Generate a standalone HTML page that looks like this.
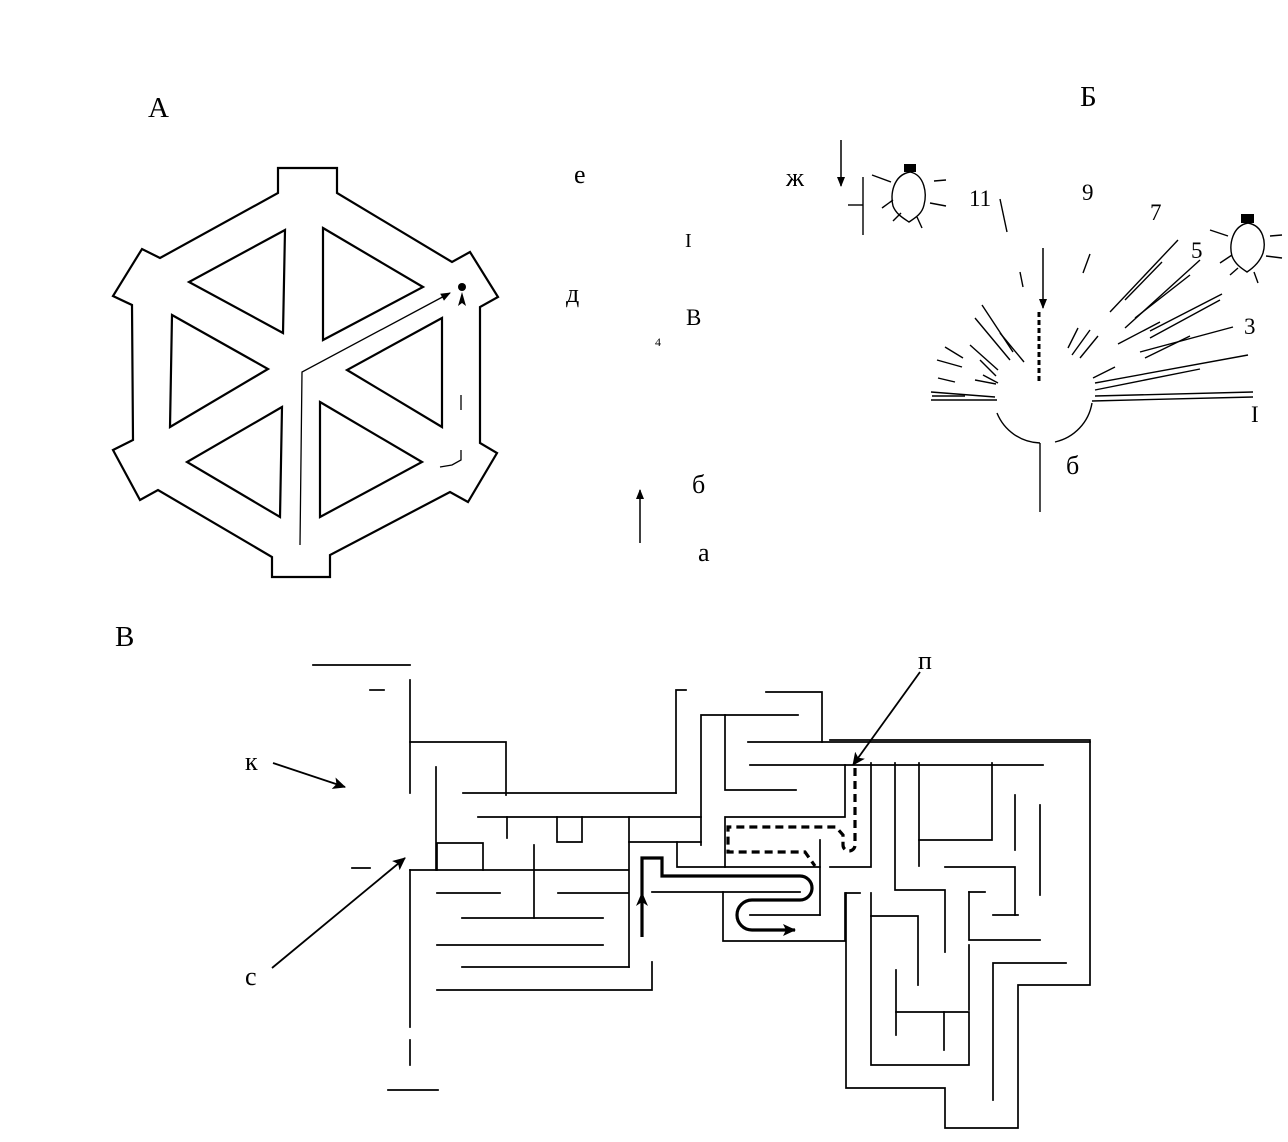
<!DOCTYPE html>
<html><head><meta charset="utf-8"><style>
html,body{margin:0;padding:0;background:#fff;}
svg{display:block}
text{font-family:"Liberation Serif","DejaVu Serif",serif;fill:#000}
</style></head><body>
<svg width="1288" height="1142" viewBox="0 0 1288 1142" xmlns="http://www.w3.org/2000/svg">
<defs>
<marker id="ah" markerWidth="10" markerHeight="10" refX="9" refY="5" orient="auto" markerUnits="userSpaceOnUse"><path d="M0,1 L10,5 L0,9 Z" fill="#000"/></marker>
<marker id="ah2" markerWidth="14" markerHeight="12" refX="12" refY="6" orient="auto" markerUnits="userSpaceOnUse"><path d="M0,0 L13,6 L0,12 L3,6 Z" fill="#000"/></marker>
</defs>

<g font-size="29">
<text x="148" y="117">А</text>
<text x="1080" y="106">Б</text>
<text x="115" y="646">В</text>
</g>
<g font-size="26">
<text x="574" y="183">е</text>
<text x="685" y="247" font-size="20">I</text>
<text x="566" y="302">д</text>
<text x="686" y="325" font-size="23">В</text>
<text x="692" y="493">б</text>
<text x="698" y="561">а</text>
<text x="786" y="186">ж</text>
<text x="245" y="770">к</text>
<text x="245" y="985">с</text>
<text x="918" y="669">п</text>
<text x="969" y="206" font-size="23">11</text>
<text x="1082" y="200" font-size="23">9</text>
<text x="1150" y="220" font-size="23">7</text>
<text x="1191" y="258" font-size="23">5</text>
<text x="1244" y="334" font-size="23">3</text>
<text x="1251" y="422" font-size="23">I</text>
<text x="1066" y="474">б</text>
</g>
<text x="655" y="346" font-size="12">4</text>

<g fill="none" stroke="#000" stroke-width="2.2" stroke-linejoin="miter">
<polygon points="278,168 337,168 337,193 452,262 470,252 498,297 480,307 480,443 497,453 468,502 450,492 330,555 330,577 272,577 272,557 158,490 140,500 113,450 133,440 132,305 113,296 142,249 160,258 278,193"/>
<polygon points="285,230 189,282 283,333"/>
<polygon points="323,228 423,287 323,340"/>
<polygon points="172,315 268,369 170,427"/>
<polygon points="442,318 347,370 442,427"/>
<polygon points="282,407 187,462 280,517"/>
<polygon points="320,402 422,462 320,517"/>
</g>
<g fill="none" stroke="#000" stroke-width="1.3">
<polyline points="300,545 302,372 450,293" marker-end="url(#ah)"/>
<line x1="461" y1="395" x2="461" y2="410"/>
<polyline points="461,450 461,460 452,465 440,467"/>
</g>
<circle cx="462" cy="287" r="4" fill="#000"/>
<path d="M462,292 L458,306 L462,303 L466,306 Z" fill="#000"/>

<line x1="640" y1="543" x2="640" y2="490" stroke="#000" stroke-width="1.5" marker-end="url(#ah)"/>
<line x1="841" y1="140" x2="841" y2="186" stroke="#000" stroke-width="1.5" marker-end="url(#ah)"/>

<g fill="none" stroke="#000" stroke-width="1.4">
<line x1="863" y1="177" x2="863" y2="235"/>
<line x1="848" y1="205" x2="863" y2="205"/>
<path d="M910,172 C893,175 890,195 893,206 C896,214 903,218 909,222 C915,218 922,214 924,205 C927,194 925,175 910,172 Z"/>
<line x1="872" y1="175" x2="891" y2="182"/><line x1="882" y1="208" x2="893" y2="200"/>
<line x1="893" y1="221" x2="901" y2="213"/><line x1="917" y1="217" x2="922" y2="228"/>
<line x1="934" y1="181" x2="946" y2="180"/><line x1="930" y1="203" x2="946" y2="206"/>
<path d="M1248,223 C1232,226 1229,245 1232,256 C1235,264 1241,268 1247,272 C1253,268 1260,262 1263,253 C1266,243 1264,226 1248,223 Z"/>
<line x1="1210" y1="230" x2="1228" y2="236"/><line x1="1220" y1="263" x2="1232" y2="255"/>
<line x1="1230" y1="275" x2="1238" y2="268"/><line x1="1254" y1="272" x2="1258" y2="283"/>
<line x1="1270" y1="236" x2="1282" y2="235"/><line x1="1266" y1="256" x2="1282" y2="258"/>
<path d="M997,413 A48,48 0 0 0 1040,443"/>
<path d="M1055,442 A48,48 0 0 0 1092,403"/>
<line x1="1040" y1="443" x2="1040" y2="512"/>
<line x1="931" y1="400" x2="997" y2="400"/>
<line x1="1092" y1="401" x2="1253" y2="397"/>
<line x1="1000" y1="199" x2="1007" y2="232"/>
<line x1="1020" y1="272" x2="1023" y2="287"/>
<line x1="1090" y1="254" x2="1083" y2="273"/>
<line x1="1178" y1="240" x2="1110" y2="312"/>
<line x1="1162" y1="262" x2="1125" y2="300"/>
<line x1="1200" y1="260" x2="1125" y2="328"/>
<line x1="1190" y1="275" x2="1135" y2="318"/>
<line x1="1222" y1="294" x2="1150" y2="331"/>
<line x1="1220" y1="300" x2="1150" y2="338"/>
<line x1="1160" y1="322" x2="1118" y2="344"/>
<line x1="1233" y1="327" x2="1140" y2="352"/>
<line x1="1190" y1="336" x2="1145" y2="358"/>
<line x1="1248" y1="355" x2="1095" y2="383"/>
<line x1="1200" y1="369" x2="1095" y2="390"/>
<line x1="1253" y1="392" x2="1095" y2="396"/>
<line x1="1115" y1="367" x2="1093" y2="378"/>
<line x1="1098" y1="336" x2="1080" y2="358"/>
<line x1="1090" y1="330" x2="1072" y2="355"/>
<line x1="1078" y1="328" x2="1068" y2="348"/>
<line x1="982" y1="305" x2="1013" y2="352"/>
<line x1="975" y1="318" x2="1010" y2="360"/>
<line x1="970" y1="345" x2="998" y2="370"/>
<line x1="980" y1="360" x2="996" y2="376"/>
<line x1="983" y1="375" x2="998" y2="383"/>
<line x1="945" y1="347" x2="963" y2="358"/>
<line x1="937" y1="360" x2="962" y2="367"/>
<line x1="938" y1="378" x2="955" y2="382"/>
<line x1="931" y1="392" x2="995" y2="397"/>
<line x1="932" y1="396" x2="965" y2="396"/>
<line x1="975" y1="380" x2="996" y2="384"/>
<line x1="1000" y1="333" x2="1024" y2="362"/>
</g>
<rect x="904" y="164" width="12" height="8" fill="#000"/>
<rect x="1241" y="214" width="13" height="9" fill="#000"/>
<line x1="1043" y1="248" x2="1043" y2="308" stroke="#000" stroke-width="1.5" marker-end="url(#ah)"/>
<line x1="1039" y1="312" x2="1039" y2="382" stroke="#000" stroke-width="3" stroke-dasharray="5,3"/>

<g fill="none" stroke="#000" stroke-width="1.7" stroke-linecap="square">
<line x1="313" y1="665" x2="410" y2="665"/>
<line x1="370" y1="690" x2="384" y2="690"/>
<line x1="388" y1="1090" x2="438" y2="1090"/>
<line x1="410" y1="680" x2="410" y2="793"/>
<line x1="410" y1="870" x2="410" y2="1027"/>
<line x1="410" y1="1040" x2="410" y2="1065"/>
<line x1="352" y1="868" x2="370" y2="868"/>
<polyline points="410,742 506,742 506,795"/>
<line x1="463" y1="793" x2="676" y2="793"/>
<polyline points="676,793 676,690 686,690"/>
<line x1="436" y1="767" x2="436" y2="870"/>
<line x1="478" y1="817" x2="701" y2="817"/>
<line x1="507" y1="817" x2="507" y2="838"/>
<polyline points="557,817 557,842 582,842 582,817"/>
<line x1="629" y1="817" x2="629" y2="967"/>
<line x1="629" y1="842" x2="701" y2="842"/>
<polyline points="701,845 701,715 798,715"/>
<polyline points="725,715 725,790 796,790"/>
<polyline points="766,692 822,692 822,742"/>
<line x1="748" y1="742" x2="1090" y2="742"/>
<line x1="750" y1="765" x2="1043" y2="765"/>
<polyline points="725,867 725,817 845,817 845,765"/>
<polyline points="437,870 437,843 483,843 483,870"/>
<line x1="410" y1="870" x2="628" y2="870"/>
<line x1="534" y1="845" x2="534" y2="918"/>
<line x1="462" y1="918" x2="603" y2="918"/>
<line x1="437" y1="893" x2="500" y2="893"/>
<line x1="558" y1="893" x2="628" y2="893"/>
<line x1="437" y1="945" x2="603" y2="945"/>
<line x1="462" y1="967" x2="629" y2="967"/>
<polyline points="437,990 652,990 652,962"/>
<polyline points="677,842 677,867 725,867 820,867"/>
<line x1="820" y1="840" x2="820" y2="915"/>
<line x1="750" y1="915" x2="820" y2="915"/>
<line x1="652" y1="892" x2="800" y2="892"/>
<polyline points="723,892 723,941 845,941 845,893 860,893"/>
<polyline points="830,740 1090,740 1090,985 1018,985 1018,1128 945,1128 945,1088 846,1088 846,893"/>
<polyline points="871,763 871,867 830,867"/>
<polyline points="895,763 895,890 945,890 945,952"/>
<line x1="919" y1="763" x2="919" y2="866"/>
<polyline points="919,840 992,840 992,763"/>
<polyline points="945,867 1015,867 1015,915"/>
<line x1="1015" y1="795" x2="1015" y2="850"/>
<polyline points="969,892 985,892"/>
<polyline points="969,892 969,940 1040,940"/>
<line x1="969" y1="945" x2="969" y2="1010"/>
<polyline points="871,893 871,1065 969,1065 969,1012 896,1012"/>
<polyline points="871,916 918,916 918,985"/>
<line x1="944" y1="1012" x2="944" y2="1050"/>
<line x1="896" y1="970" x2="896" y2="1035"/>
<polyline points="993,1100 993,963 1066,963"/>
<line x1="1040" y1="805" x2="1040" y2="895"/>
<line x1="993" y1="915" x2="1018" y2="915"/>
</g>

<g stroke="#000" stroke-width="1.8">
<line x1="273" y1="763" x2="345" y2="787" marker-end="url(#ah2)"/>
<line x1="272" y1="968" x2="405" y2="858" marker-end="url(#ah2)"/>
<line x1="920" y1="672" x2="853" y2="765" marker-end="url(#ah2)"/>
</g>

<g fill="none" stroke="#000" stroke-width="3.2">
<path d="M642,937 L642,858 L662,858 L662,876 L800,876 A12,12 0 0 1 800,900 L752,900 A15,15 0 0 0 752,930 L795,930" marker-end="url(#ah2)"/>
</g>
<path d="M642,892 L636,906 L642,902 L648,906 Z" fill="#000"/>
<path d="M855,768 L855,845 A6,6 0 0 1 843,845 L843,835 L836,827 L728,827 L728,852 L805,852 L815,866" fill="none" stroke="#000" stroke-width="3.2" stroke-dasharray="8,5"/>
</svg>
</body></html>
